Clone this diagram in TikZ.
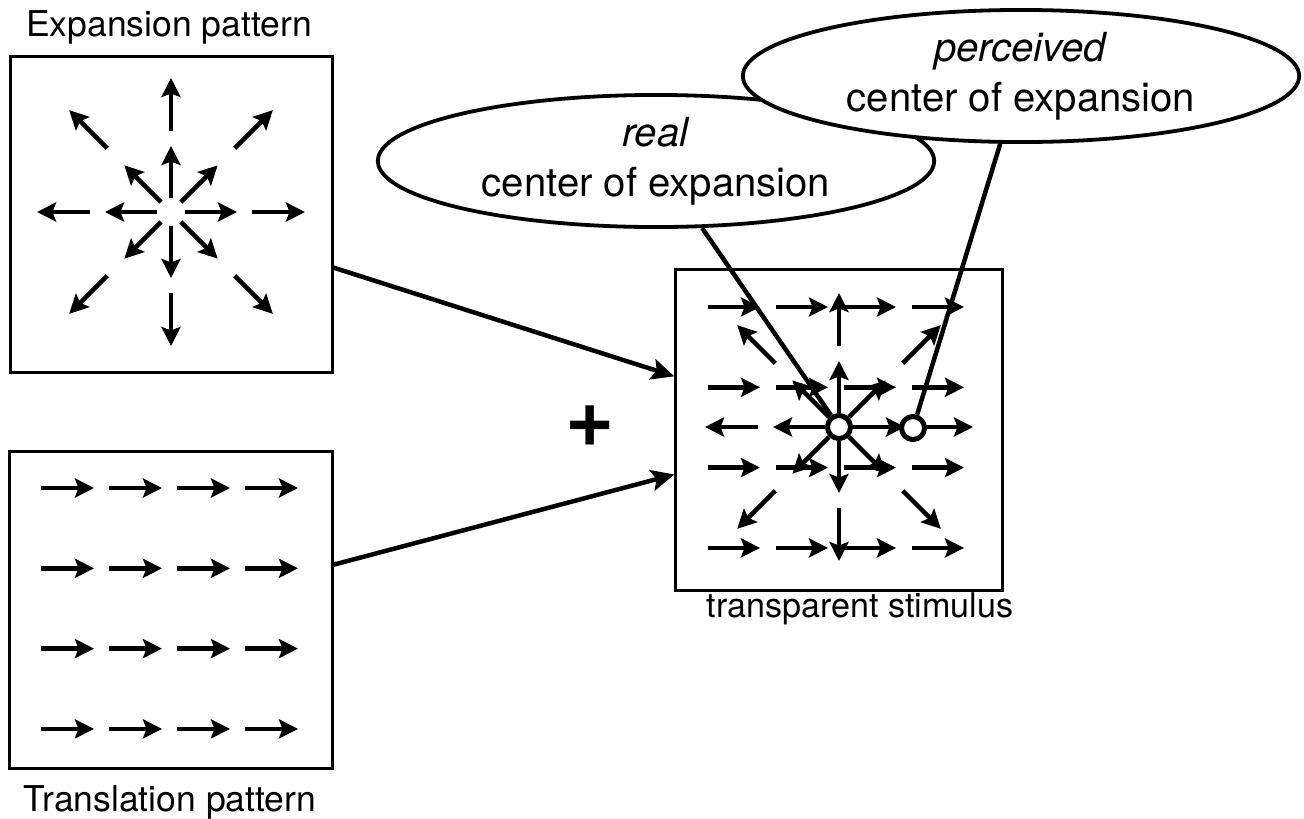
\documentclass[tikz,border=0pt]{standalone}
\usepackage{fontspec}
\setmainfont{TeX Gyre Heros}
\usetikzlibrary{arrows.meta,shapes.geometric,calc}
\begin{document}
\begin{tikzpicture}[x=0.01cm,y=-0.01cm,
  vec/.style={line width=0.045cm,-{Stealth[length=0.19cm,width=0.19cm,inset=0.035cm]}},
  panel/.style={draw,line width=0.03cm,inner sep=0},
  conn/.style={line width=0.045cm,-{Stealth[length=0.23cm,width=0.21cm,inset=0.045cm]}},
  lead/.style={line width=0.045cm},
  bubble/.style={ellipse,draw,line width=0.038cm,fill=white,minimum width=5.56cm,minimum height=1.32cm,inner sep=0,align=center,font=\fontsize{11.4}{14.2}\selectfont},
  dot/.style={circle,draw,line width=0.05cm,fill=white,minimum size=0.23cm,inner sep=0},
  caption/.style={font=\fontsize{10.1}{12}\selectfont,inner sep=0,anchor=base}
]
\useasboundingbox (0,0) rectangle (1304,818);

% panels
\node[panel,minimum width=3.21cm,minimum height=3.15cm] (exp) at (171.5,214.5) {};
\node[panel,minimum width=3.22cm,minimum height=3.16cm] (trans) at (171,610) {};
\node[panel,minimum width=3.26cm,minimum height=3.20cm] (stim) at (839,430) {};

% captions
\node[caption] (explab) at (169,37) {Expansion pattern};
\node[caption] (translab) at (170,811) {Translation pattern};
\node[caption,font=\fontsize{9.7}{12}\selectfont] (stimlab) at (860,617) {transparent stimulus};

% expansion pattern
\coordinate (ec) at (171,212);
\foreach \a in {0,45,...,315} \draw[vec,shift={(ec)}] (\a:14) -- (\a:66);
\foreach \a in {0,90,180,270} \draw[vec,shift={(ec)}] (\a:81) -- (\a:134);
\foreach \a in {45,135,225,315} \draw[vec,shift={(ec)}] (\a:90) -- (\a:144);

% translation pattern
\foreach \i in {0,...,3} \foreach \j in {0,...,3}
  \draw[vec] ({41+68*\i},{488+80.3*\j}) -- ++(53,0);

% transparent stimulus
\foreach \i in {0,...,3} \foreach \j in {0,...,3}
  \draw[vec] ({708+68*\i},{307+80.3*\j}) -- ++(52,0);
\coordinate (sc) at (839,427);
\foreach \a in {0,45,...,315} \draw[vec,shift={(sc)}] (\a:14) -- (\a:66);
\foreach \a in {0,90,180,270} \draw[vec,shift={(sc)}] (\a:81) -- (\a:134);
\foreach \a in {45,135,225,315} \draw[vec,shift={(sc)}] (\a:90) -- (\a:144);

% connectors into the stimulus
\coordinate (e1) at ($(exp.south east)!0.333!(exp.north east)$);
\coordinate (t1) at ($(trans.north east)!0.358!(trans.south east)$);
\coordinate (s1) at ($(stim.north west)!0.334!(stim.south west)$);
\coordinate (s2) at ($(stim.north west)!0.6375!(stim.south west)$);
\draw[conn] (e1) -- (s1);
\draw[conn] (t1) -- (s2);

% plus sign
\node[font=\fontsize{24}{24}\selectfont\bfseries,inner sep=0] (plus) at (590,426) {+};

% ellipses
\node[bubble] (real) at (656,161) {\textit{real}\\center of expansion};
\node[bubble] (perc) at (1021,76) {\textit{perceived}\\center of expansion};

% centres
\node[dot] (rc) at (839,427) {};
\node[dot] (pc) at (913,428) {};
\draw[lead] (real) -- (rc);
\draw[lead] (perc) -- (pc);
\end{tikzpicture}
\end{document}
